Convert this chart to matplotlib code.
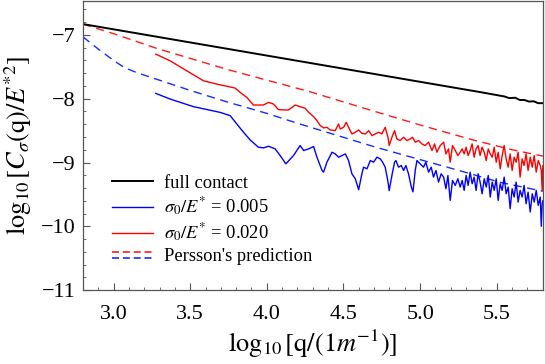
import matplotlib
matplotlib.use("Agg")
import matplotlib.pyplot as plt
from matplotlib.legend_handler import HandlerBase
from matplotlib.lines import Line2D
from matplotlib.ticker import MultipleLocator

plt.rcParams["font.family"] = ["Liberation Serif", "DejaVu Serif"]
plt.rcParams["mathtext.fontset"] = "stix"

# ---- data (log10 q, log10 C/E*^2) ----
full_q = [2.80, 5.40, 5.55, 5.58, 5.62, 5.65, 5.68, 5.71, 5.74, 5.77, 5.80]
full_c = [-6.83, -7.90, -7.965, -7.99, -7.985, -8.02, -8.02, -8.045, -8.04, -8.07, -8.07]

red_q = [3.276, 3.369, 3.478, 3.587, 3.674, 3.793, 3.826, 3.869, 3.913, 3.978,
         4.011, 4.043, 4.076, 4.141, 4.185, 4.217, 4.250, 4.273, 4.305, 4.327,
         4.349, 4.370, 4.392, 4.414, 4.446, 4.468, 4.479, 4.501, 4.518, 4.533,
         4.555, 4.577, 4.599, 4.620, 4.642, 4.664, 4.686, 4.707, 4.729, 4.750,
         4.772, 4.790, 4.798, 4.816, 4.833, 4.848, 4.870, 4.892, 4.914, 4.935,
         4.950, 4.968, 4.990, 5.011, 5.033, 5.055, 5.077, 5.094, 5.109, 5.131,
         5.153, 5.168, 5.185, 5.196, 5.211, 5.229, 5.246, 5.261, 5.274, 5.287,
         5.300, 5.313, 5.326, 5.339, 5.352, 5.365, 5.378, 5.391, 5.404, 5.418,
         5.431, 5.444, 5.457, 5.470, 5.483, 5.496, 5.509, 5.522, 5.535, 5.548,
         5.561, 5.574, 5.587, 5.600, 5.613, 5.626, 5.639, 5.652, 5.665, 5.678,
         5.691, 5.704, 5.718, 5.731, 5.744, 5.757, 5.770, 5.783, 5.790, 5.796,
         5.800]
red_c = [-7.302, -7.406, -7.563, -7.719, -7.771, -7.833, -7.901, -7.979, -8.099, -8.099,
         -8.057, -8.083, -8.172, -8.177, -8.099, -8.125, -8.150, -8.214, -8.281, -8.344,
         -8.422, -8.458, -8.448, -8.490, -8.500, -8.396, -8.474, -8.448, -8.370, -8.448,
         -8.552, -8.526, -8.490, -8.542, -8.552, -8.500, -8.578, -8.552, -8.526, -8.552,
         -8.448, -8.604, -8.734, -8.604, -8.500, -8.630, -8.656, -8.604, -8.656, -8.630,
         -8.604, -8.682, -8.656, -8.708, -8.734, -8.682, -8.812, -8.708, -8.839, -8.734,
         -8.682, -8.865, -8.786, -8.995, -8.734, -8.812, -8.891, -8.839, -8.786, -8.865,
         -8.760, -8.891, -8.812, -8.708, -8.917, -8.786, -8.734, -8.891, -8.760, -8.839,
         -8.969, -8.786, -8.865, -8.917, -8.760, -8.995, -8.839, -9.099, -8.891, -8.734,
         -8.943, -9.073, -8.865, -9.125, -8.917, -8.995, -8.839, -9.229, -8.943, -9.047,
         -8.865, -9.125, -8.917, -9.073, -8.891, -9.151, -8.969, -9.047, -9.125, -9.440,
         -9.050]

blue_q = [3.276, 3.369, 3.522, 3.695, 3.761, 3.804, 3.848, 3.891, 3.945, 3.978,
          4.011, 4.054, 4.087, 4.124, 4.174, 4.217, 4.240, 4.273, 4.305, 4.327,
          4.360, 4.370, 4.392, 4.425, 4.446, 4.468, 4.490, 4.512, 4.533, 4.555,
          4.577, 4.599, 4.620, 4.631, 4.653, 4.675, 4.696, 4.718, 4.740, 4.755,
          4.772, 4.790, 4.798, 4.816, 4.833, 4.842, 4.859, 4.877, 4.892, 4.907,
          4.924, 4.942, 4.953, 4.968, 4.979, 5.000, 5.022, 5.037, 5.055, 5.072,
          5.087, 5.103, 5.120, 5.137, 5.153, 5.168, 5.181, 5.196, 5.211, 5.229,
          5.246, 5.261, 5.274, 5.287, 5.300, 5.313, 5.326, 5.339, 5.352, 5.365,
          5.378, 5.391, 5.404, 5.418, 5.431, 5.444, 5.457, 5.470, 5.483, 5.496,
          5.509, 5.522, 5.535, 5.548, 5.561, 5.574, 5.587, 5.600, 5.613, 5.626,
          5.639, 5.652, 5.665, 5.678, 5.691, 5.704, 5.718, 5.731, 5.744, 5.757,
          5.770, 5.783, 5.790, 5.796, 5.800]
blue_c = [-7.917, -8.005, -8.125, -8.214, -8.266, -8.396, -8.526, -8.646, -8.760, -8.771,
          -8.745, -8.786, -8.891, -9.021, -8.891, -8.734, -8.812, -8.786, -8.750, -8.917,
          -9.125, -9.151, -8.995, -8.839, -8.865, -8.917, -8.891, -8.865, -8.969, -9.177,
          -9.255, -9.427, -9.177, -9.073, -9.099, -8.969, -8.995, -8.917, -8.943, -8.995,
          -9.073, -9.300, -9.440, -9.200, -8.995, -8.969, -9.073, -9.047, -9.125, -9.047,
          -9.177, -9.380, -9.460, -9.125, -8.969, -9.021, -9.073, -8.995, -9.151, -9.073,
          -9.229, -9.125, -9.307, -9.177, -9.229, -9.411, -9.203, -9.594, -9.281, -9.359,
          -9.255, -9.385, -9.281, -9.437, -9.203, -9.359, -9.151, -9.333, -9.229, -9.437,
          -9.177, -9.307, -9.490, -9.255, -9.385, -9.203, -9.542, -9.307, -9.437, -9.255,
          -9.594, -9.333, -9.437, -9.229, -9.490, -9.385, -9.724, -9.411, -9.542, -9.307,
          -9.620, -9.437, -9.542, -9.359, -9.646, -9.464, -9.776, -9.490, -9.620, -9.437,
          -9.672, -9.542, -10.00, -9.650, -9.600]

persson_red_q = [2.80, 3.00, 3.28, 3.74, 4.28, 4.76, 5.04, 5.35, 5.60, 5.80]
persson_red_c = [-6.83, -6.98, -7.21, -7.54, -7.89, -8.24, -8.44, -8.65, -8.80, -8.90]

persson_blue_q = [2.80, 2.90, 3.00, 3.07, 3.15, 3.30, 3.50, 3.74, 4.00, 4.22, 4.71, 5.29, 5.52, 5.80]
persson_blue_c = [-7.03, -7.22, -7.40, -7.51, -7.59, -7.71, -7.87, -8.05, -8.23, -8.40, -8.76, -9.15, -9.31, -9.45]

x_ticks = [3.0, 3.5, 4.0, 4.5, 5.0, 5.5]
y_ticks = [-11, -10, -9, -8, -7]

labels = ["full contact",
          r"$\sigma_0/E^{*}$ = 0.005",
          r"$\sigma_0/E^{*}$ = 0.020",
          "Persson's prediction"]


class TwoDashHandler(HandlerBase):
    """Legend key: red dash above blue dash."""
    def create_artists(self, legend, orig_handle, xdescent, ydescent,
                       width, height, fontsize, trans):
        top, bot = orig_handle
        yc = height / 2 - ydescent
        arts = []
        for src, dy in ((top, 0.2 * height), (bot, -0.2 * height)):
            ln = Line2D([-xdescent, width - xdescent], [yc + dy, yc + dy],
                        color=src.get_color(), lw=src.get_linewidth(),
                        dashes=(4.2, 2.3), transform=trans)
            arts.append(ln)
        return arts


fig = plt.figure(figsize=(5.45, 3.64), dpi=100)
ax = fig.add_axes([0.152, 0.203, 0.844, 0.794])

dash = (6, 4)
ax.plot(persson_red_q, persson_red_c, color="#ff1a1a", lw=1.0, dashes=dash)
ax.plot(persson_blue_q, persson_blue_c, color="#1a2aff", lw=1.0, dashes=dash)
h_red, = ax.plot(red_q, red_c, color="#ff0000", lw=1.0)
h_blue, = ax.plot(blue_q, blue_c, color="#0000ff", lw=1.0)
h_full, = ax.plot(full_q, full_c, color="black", lw=1.4)

pr = Line2D([], [], color="#ff1a1a", lw=1.2)
pb = Line2D([], [], color="#1a2aff", lw=1.2)

ax.legend([h_full, h_blue, h_red, (pr, pb)], labels,
          handler_map={tuple: TwoDashHandler()},
          loc="upper left", bbox_to_anchor=(0.064, 0.40), frameon=False,
          fontsize=13.3, handlelength=2.2, handletextpad=0.6,
          labelspacing=0.22, borderpad=0, borderaxespad=0)

ax.set_xlim(2.8, 5.8)
ax.set_ylim(-11, -6.47)
ax.set_xticks(x_ticks)
ax.set_yticks(y_ticks)
ax.set_xticklabels([f"{t:.1f}" for t in x_ticks])
ax.set_yticklabels([f"\u2212{abs(t)}" for t in y_ticks])
ax.xaxis.set_minor_locator(MultipleLocator(0.1))
ax.yaxis.set_minor_locator(MultipleLocator(0.2))
ax.tick_params(which="both", direction="in", colors="#555555",
               labelcolor="black", labelsize=16, top=False, right=False)
ax.tick_params(which="major", length=5, width=0.8)
ax.tick_params(which="minor", length=2.5, width=0.6)
ax.tick_params(axis="x", which="major", pad=10.5)
ax.tick_params(axis="y", which="major", pad=5)
for sp in ax.spines.values():
    sp.set_color("#555555")
    sp.set_linewidth(0.9)

ax.set_xlabel(r"$\log_{10}[\mathrm{q}/(1m^{-1})]$", fontsize=19, labelpad=3)
ax.set_ylabel(r"$\log_{10}[C_{\sigma}(\mathrm{q})/E^{*2}]$", fontsize=19, labelpad=5)

fig.savefig("out.png", dpi=100)
